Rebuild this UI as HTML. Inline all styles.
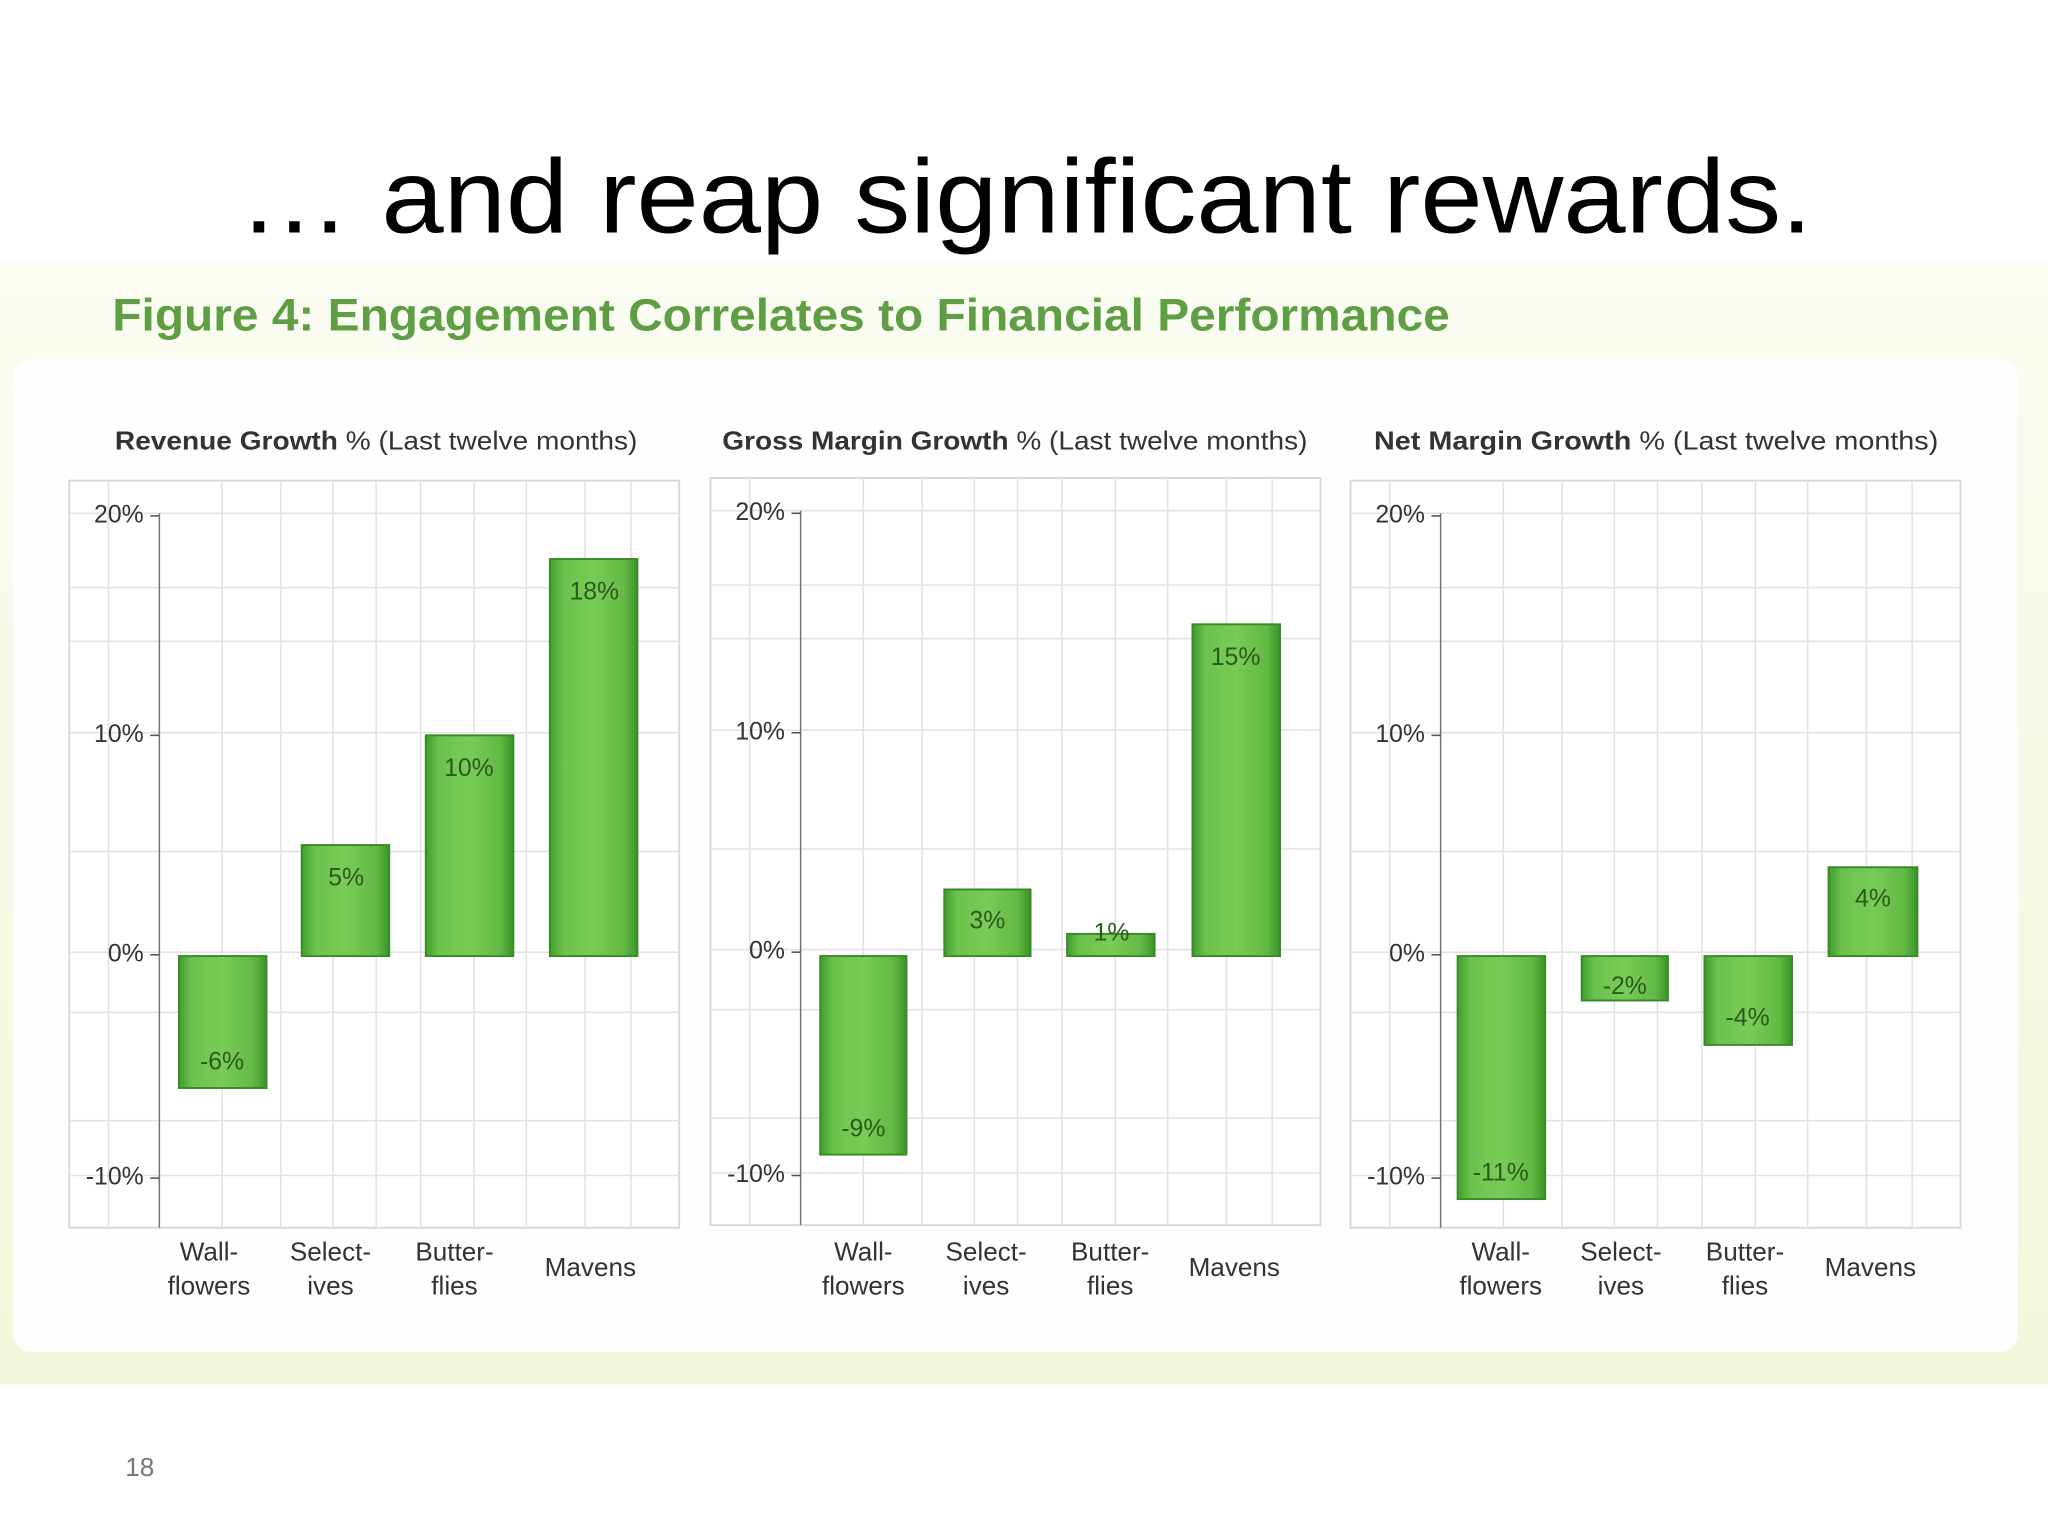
<!DOCTYPE html>
<html><head><meta charset="utf-8"><style>
html,body{margin:0;padding:0;background:#fff;width:2048px;height:1536px;overflow:hidden}
svg{display:block}
text{font-family:"Liberation Sans",sans-serif}
</style></head><body>
<svg width="2048" height="1536" viewBox="0 0 1568 1176" xmlns="http://www.w3.org/2000/svg">
<defs>
<linearGradient id="bg" x1="0" y1="0" x2="1" y2="0">
<stop offset="0" stop-color="#3f9e2c"/><stop offset="0.15" stop-color="#6cc24d"/><stop offset="0.5" stop-color="#7acb58"/><stop offset="0.85" stop-color="#62b944"/><stop offset="1" stop-color="#3a9428"/>
</linearGradient>
<linearGradient id="cream" x1="0" y1="0" x2="0" y2="1">
<stop offset="0" stop-color="#fbfcf2"/><stop offset="1" stop-color="#f5f7dc"/>
</linearGradient>
<g id="grid">
<rect x="53" y="368" width="467" height="572" fill="#fff" stroke="#d8d8d8" stroke-width="1.5"/>
<g stroke="#e2e2e2" stroke-width="1.2">
<line x1="83" y1="368" x2="83" y2="940"/><line x1="170" y1="368" x2="170" y2="940"/><line x1="215" y1="368" x2="215" y2="940"/><line x1="255" y1="368" x2="255" y2="940"/><line x1="288" y1="368" x2="288" y2="940"/><line x1="322" y1="368" x2="322" y2="940"/><line x1="363" y1="368" x2="363" y2="940"/><line x1="403" y1="368" x2="403" y2="940"/><line x1="448" y1="368" x2="448" y2="940"/><line x1="483" y1="368" x2="483" y2="940"/>
<line x1="53" y1="393" x2="520" y2="393"/><line x1="53" y1="450" x2="520" y2="450"/><line x1="53" y1="491" x2="520" y2="491"/><line x1="53" y1="561" x2="520" y2="561"/><line x1="53" y1="652" x2="520" y2="652"/><line x1="53" y1="729" x2="520" y2="729"/><line x1="53" y1="775" x2="520" y2="775"/><line x1="53" y1="858" x2="520" y2="858"/><line x1="53" y1="900" x2="520" y2="900"/>
</g>
<line x1="122" y1="393" x2="122" y2="940" stroke="#777" stroke-width="1.2"/>
<g font-size="19" fill="#333" text-anchor="end">
<text x="110" y="400">20%</text><text x="110" y="568">10%</text><text x="110" y="736">0%</text><text x="110" y="907">-10%</text>
</g>
<g stroke="#555" stroke-width="1.2"><line x1="115" y1="395" x2="122" y2="395"/><line x1="115" y1="563" x2="122" y2="563"/><line x1="115" y1="731" x2="122" y2="731"/><line x1="115" y1="902" x2="122" y2="902"/></g>
</g>
</defs>
<rect x="0" y="200" width="1568" height="860" fill="url(#cream)"/>
<rect x="10" y="275" width="1535" height="760" rx="14" fill="#fefefd"/>
<text x="785" y="178" font-size="80" text-anchor="middle" textLength="1205" lengthAdjust="spacingAndGlyphs" fill="#000">… and reap significant rewards.</text>
<text x="86" y="253" font-size="35" font-weight="bold" fill="#5f9e45" textLength="1024" lengthAdjust="spacingAndGlyphs">Figure 4: Engagement Correlates to Financial Performance</text>
<text x="107" y="1130" font-size="20" fill="#777" text-anchor="middle">18</text>
<g font-size="20" fill="#333">
<text x="88" y="344" textLength="400" lengthAdjust="spacingAndGlyphs"><tspan font-weight="bold">Revenue Growth</tspan> % (Last twelve months)</text>
<text x="553" y="344" textLength="448" lengthAdjust="spacingAndGlyphs"><tspan font-weight="bold">Gross Margin Growth</tspan> % (Last twelve months)</text>
<text x="1052" y="344" textLength="432" lengthAdjust="spacingAndGlyphs"><tspan font-weight="bold">Net Margin Growth</tspan> %  (Last twelve months)</text>
</g>
<use href="#grid"/>
<use href="#grid" transform="translate(491,-2)"/>
<use href="#grid" transform="translate(981,0)"/>
<g stroke="#3a8a28" stroke-width="1.5" fill="url(#bg)">
<rect x="137" y="732" width="67" height="101"/><rect x="231" y="647" width="67" height="85"/><rect x="326" y="563" width="67" height="169"/><rect x="421" y="428" width="67" height="304"/>
<rect x="628" y="732" width="66" height="152"/><rect x="723" y="681" width="66" height="51"/><rect x="817" y="715" width="67" height="17"/><rect x="913" y="478" width="67" height="254"/>
<rect x="1116" y="732" width="67" height="186"/><rect x="1211" y="732" width="66" height="34"/><rect x="1305" y="732" width="67" height="68"/><rect x="1400" y="664" width="68" height="68"/>
</g>
<g font-size="19" fill="#2a5a1c" text-anchor="middle">
<text x="170" y="819">-6%</text><text x="265" y="678">5%</text><text x="359" y="594">10%</text><text x="455" y="459">18%</text>
<text x="661" y="870">-9%</text><text x="756" y="711">3%</text><text x="851" y="720">1%</text><text x="946" y="509">15%</text>
<text x="1149" y="904">-11%</text><text x="1244" y="761">-2%</text><text x="1338" y="785">-4%</text><text x="1434" y="694">4%</text>
</g>
<g font-size="20" fill="#333" text-anchor="middle">
<text x="160" y="965">Wall-</text><text x="160" y="991">flowers</text>
<text x="253" y="965">Select-</text><text x="253" y="991">ives</text>
<text x="348" y="965">Butter-</text><text x="348" y="991">flies</text>
<text x="452" y="977">Mavens</text>
<text x="661" y="965">Wall-</text><text x="661" y="991">flowers</text>
<text x="755" y="965">Select-</text><text x="755" y="991">ives</text>
<text x="850" y="965">Butter-</text><text x="850" y="991">flies</text>
<text x="945" y="977">Mavens</text>
<text x="1149" y="965">Wall-</text><text x="1149" y="991">flowers</text>
<text x="1241" y="965">Select-</text><text x="1241" y="991">ives</text>
<text x="1336" y="965">Butter-</text><text x="1336" y="991">flies</text>
<text x="1432" y="977">Mavens</text>
</g>
</svg>
</body></html>
